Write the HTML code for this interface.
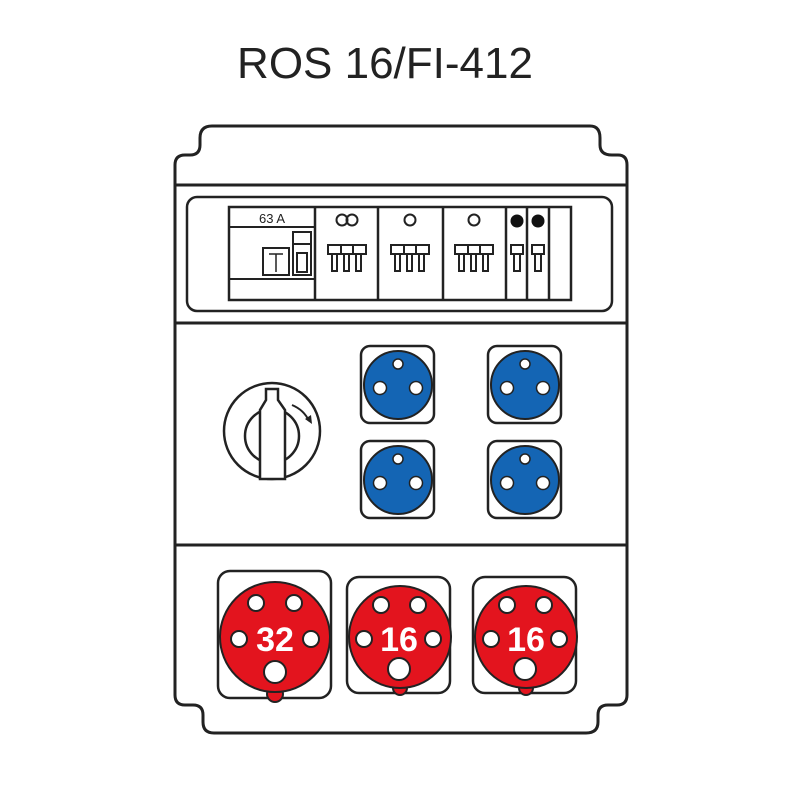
<!DOCTYPE html>
<html><head><style>html,body{margin:0;padding:0;background:#fff}</style></head><body>
<svg width="800" height="800" viewBox="0 0 800 800" xmlns="http://www.w3.org/2000/svg" font-family="Liberation Sans, sans-serif">
<rect width="800" height="800" fill="#fff"/>
<text x="385" y="78" font-size="44" text-anchor="middle" fill="#222">ROS 16/FI-412</text>
<g fill="none" stroke="#222" stroke-width="3">
<path d="M190,155 Q200,155 200,145 L200,138 Q200,126 212,126 L590,126 Q600,126 600,138 L600,145 Q600,155 612,155 L618,155 Q627,155 627,165 L627,695 Q627,705 617,705 L608,705 Q598,705 598,715 L598,722 Q598,733 586,733 L214,733 Q203,733 203,722 L203,715 Q203,705 193,705 L185,705 Q175,705 175,695 L175,165 Q175,155 185,155 Z"/>
<line x1="175" y1="185" x2="627" y2="185"/>
<line x1="175" y1="323" x2="627" y2="323"/>
<line x1="175" y1="545" x2="627" y2="545"/>
<rect x="187" y="197" width="425" height="114" rx="10" stroke-width="2.5"/>
<rect x="229" y="207" width="342" height="93" stroke-width="2.5"/>
<line x1="229" y1="227" x2="315" y2="227" stroke-width="2"/>
<line x1="229" y1="279" x2="315" y2="279" stroke-width="2"/>
<line x1="315" y1="207" x2="315" y2="300" stroke-width="2.5"/>
<line x1="378" y1="207" x2="378" y2="300" stroke-width="2.5"/>
<line x1="443" y1="207" x2="443" y2="300" stroke-width="2.5"/>
<line x1="506" y1="207" x2="506" y2="300" stroke-width="2.5"/>
<line x1="527" y1="207" x2="527" y2="300" stroke-width="2.5"/>
<line x1="549" y1="207" x2="549" y2="300" stroke-width="2.5"/>
<rect x="263" y="248" width="26" height="27" stroke-width="2"/>
<path d="M269,254 H283 M276,254 V272" stroke-width="1.5"/>
<rect x="293" y="232" width="18" height="43" stroke-width="2"/>
<line x1="293" y1="244" x2="311" y2="244" stroke-width="2"/>
<rect x="297" y="253" width="10" height="19" stroke-width="2"/>
<circle cx="342" cy="220" r="5.5" stroke-width="2"/><circle cx="352" cy="220" r="5.5" stroke-width="2"/>
<circle cx="410" cy="220" r="5.5" stroke-width="2"/>
<circle cx="474" cy="220" r="5.5" stroke-width="2"/>
</g>
<circle cx="517" cy="221" r="6.5" fill="#111"/><circle cx="538" cy="221" r="6.5" fill="#111"/>
<g fill="none" stroke="#222" stroke-width="2">
<g id="tb"><rect x="328" y="245" width="38" height="9"/><line x1="341" y1="245" x2="341" y2="254"/><line x1="353" y1="245" x2="353" y2="254"/>
<rect x="332" y="254" width="5" height="17"/><rect x="344" y="254" width="5" height="17"/><rect x="356" y="254" width="5" height="17"/></g>
<use href="#tb" x="63"/><use href="#tb" x="127"/>
<g id="sb"><rect x="511" y="245" width="12" height="9"/><rect x="514" y="254" width="6" height="17"/></g>
<use href="#sb" x="21"/>
</g>
<!-- rotary switch -->
<g fill="none" stroke="#222" stroke-width="2.5">
<circle cx="272" cy="431" r="48"/>
<circle cx="272" cy="436" r="27"/>
<path d="M260,479 L260,410 L266,400 L266,389 L278,389 L278,400 L285,410 L285,479 Z" fill="#fff"/>
<path d="M292,405 Q304,410 309,421" stroke-width="2"/>
</g>
<path d="M305,419 L312,424 L311,415 Z" fill="#222"/>
<!-- blue sockets -->
<g id="bs">
<rect x="361" y="346" width="73" height="77" rx="9" fill="#fff" stroke="#222" stroke-width="2.5"/>
<circle cx="398" cy="385" r="34" fill="#1465b4" stroke="#222" stroke-width="2"/>
<circle cx="398" cy="364" r="5" fill="#fff" stroke="#222" stroke-width="1.5"/>
<circle cx="380" cy="388" r="6.5" fill="#fff" stroke="#222" stroke-width="1.5"/>
<circle cx="416" cy="388" r="6.5" fill="#fff" stroke="#222" stroke-width="1.5"/>
</g>
<use href="#bs" x="127"/><use href="#bs" y="95"/><use href="#bs" x="127" y="95"/>
<!-- red sockets -->
<rect x="218" y="571" width="113" height="127" rx="12" fill="#fff" stroke="#222" stroke-width="2.5"/>
<rect x="347" y="577" width="103" height="116" rx="12" fill="#fff" stroke="#222" stroke-width="2.5"/>
<rect x="473" y="577" width="103" height="116" rx="12" fill="#fff" stroke="#222" stroke-width="2.5"/>
<g stroke="#222" stroke-width="2">
<circle cx="275" cy="694" r="8" fill="#e3141e"/>
<circle cx="275" cy="637" r="55" fill="#e3141e"/>
<circle cx="400" cy="688" r="7" fill="#e3141e"/>
<circle cx="400" cy="637" r="51" fill="#e3141e"/>
<circle cx="526" cy="688" r="7" fill="#e3141e"/>
<circle cx="526" cy="637" r="51" fill="#e3141e"/>
<g fill="#fff">
<circle cx="256" cy="603" r="8"/><circle cx="294" cy="603" r="8"/><circle cx="239" cy="639" r="8"/><circle cx="311" cy="639" r="8"/><circle cx="275" cy="672" r="11"/>
<circle cx="381" cy="605" r="8"/><circle cx="418" cy="605" r="8"/><circle cx="364" cy="639" r="8"/><circle cx="433" cy="639" r="8"/><circle cx="399" cy="669" r="11"/>
<circle cx="507" cy="605" r="8"/><circle cx="544" cy="605" r="8"/><circle cx="491" cy="639" r="8"/><circle cx="559" cy="639" r="8"/><circle cx="525" cy="669" r="11"/>
</g>
</g>
<g fill="#fff" font-weight="bold" font-size="34" text-anchor="middle">
<text x="275" y="651">32</text><text x="399" y="651">16</text><text x="526" y="651">16</text>
</g>
<text x="272" y="223" font-size="13" text-anchor="middle" fill="#222">63 A</text>
</svg>
</body></html>
